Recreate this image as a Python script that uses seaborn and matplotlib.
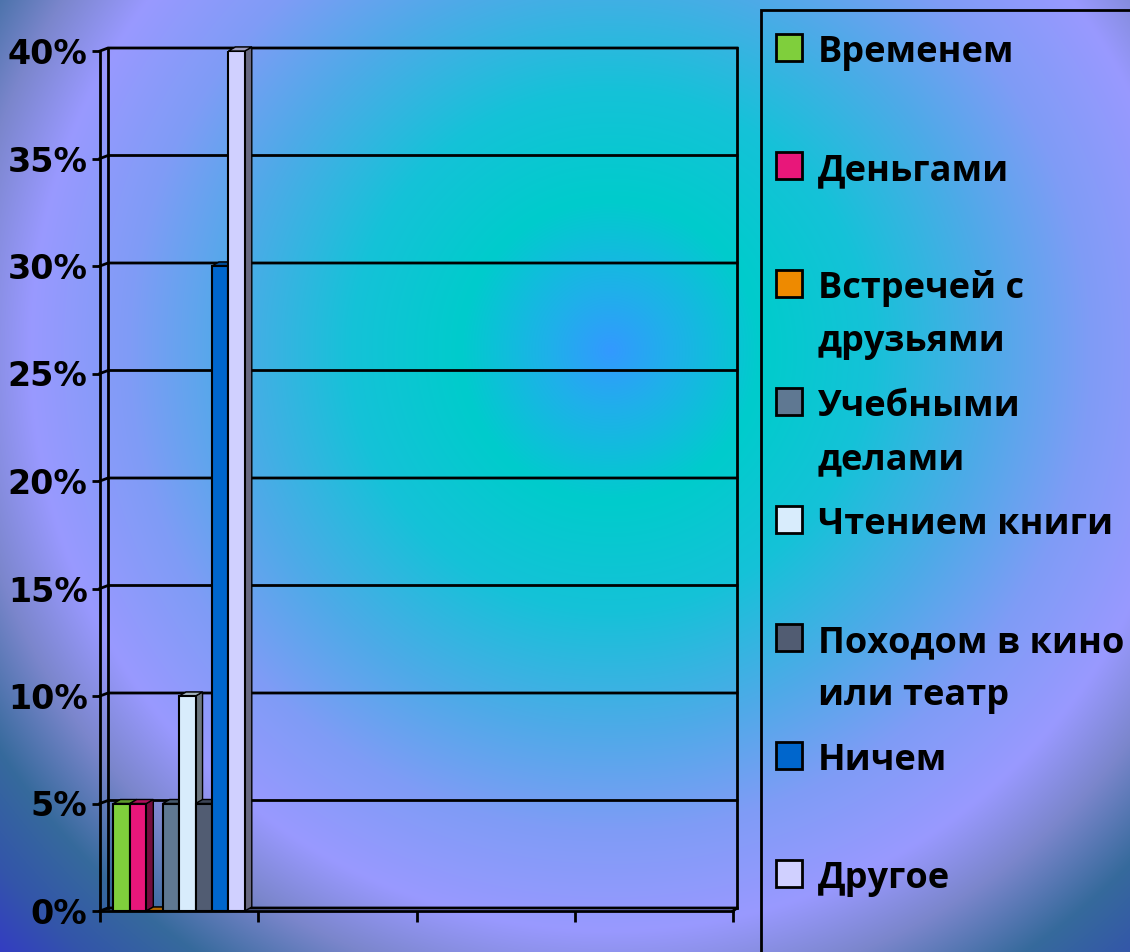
import numpy as np
import pandas as pd
import matplotlib
matplotlib.use("Agg")
import matplotlib.pyplot as plt
import matplotlib.colors as mcolors
from matplotlib.patches import Polygon, Rectangle
from matplotlib.lines import Line2D
from matplotlib.transforms import IdentityTransform
from matplotlib.ticker import PercentFormatter
import seaborn as sns

# survey answers and their shares
answers = ["Временем", "Деньгами", "Встречей с\nдрузьями", "Учебными\nделами",
           "Чтением книги", "Походом в кино\nили театр", "Ничем", "Другое"]
shares = [0.05, 0.05, 0.0, 0.05, 0.10, 0.05, 0.30, 0.40]
colors = ["#7fcf3c", "#e8177a", "#ee8a00", "#5f7892",
          "#d8ecfc", "#515c72", "#0066cc", "#d0d0ff"]
groups = ["1"] * len(answers)
y_ticks = [0.0, 0.05, 0.10, 0.15, 0.20, 0.25, 0.30, 0.35, 0.40]
x_bounds = [-0.5, 0.5, 1.5, 2.5, 3.5]

W, H = 1130, 952
fig = plt.figure(figsize=(W / 100, H / 100), dpi=100)
plt.rcParams["font.family"] = ["DejaVu Sans"]

# radial background
yy, xx = np.mgrid[0:H, 0:W]
r = np.hypot(xx - 610, yy - 350)
stops = [0, 60, 150, 260, 380, 480, 580, 650, 730, 800, 880]
stop_cols = ["#3399ff", "#1fb0ea", "#00cccc", "#15c2d8", "#4eaae8", "#7f9cf6",
             "#9999ff", "#7b86cc", "#366a9c", "#3355aa", "#3333cc"]
rgb = np.array([mcolors.to_rgb(c) for c in stop_cols])
img = np.dstack([np.interp(r, stops, rgb[:, k]) for k in range(3)])
bg = fig.add_axes([0, 0, 1, 1], zorder=-10)
bg.imshow(img, aspect="auto", extent=(0, 1, 0, 1), interpolation="bilinear")
bg.axis("off")

# main axes
ax = fig.add_axes([100 / W, 1 - 911 / H, 633 / W, 860 / H])
ax.set_facecolor("none")
df = pd.DataFrame({"group": groups, "answer": answers, "share": shares})
sns.barplot(data=df, x="group", y="share", hue="answer", hue_order=answers,
            palette=colors, saturation=1, width=0.83, edgecolor="black",
            linewidth=1.5, legend=False, ax=ax)
ax.set_xlim(x_bounds[0], x_bounds[-1])
ax.set_ylim(0, 0.40)
ax.set_xticks(x_bounds, labels=[""] * len(x_bounds))
ax.set_yticks(y_ticks)
ax.yaxis.set_major_formatter(PercentFormatter(1.0, decimals=0))
ax.set_xlabel("")
ax.set_ylabel("")
for s in ["top", "right"]:
    ax.spines[s].set_visible(False)
for s in ["left", "bottom"]:
    ax.spines[s].set_linewidth(2)
ax.tick_params(axis="y", direction="out", length=6, width=2, pad=3,
               labelsize=24)
ax.tick_params(axis="x", direction="out", length=8, width=2)
for t in ax.get_yticklabels():
    t.set_fontweight("bold")

# back wall, grid lines (pseudo 3D)
to_px = ax.transData.transform
xl_px = to_px((x_bounds[0], 0))[0]
xr_px = to_px((x_bounds[-1], 0))[0]


def back(px, py):
    t = (px - xl_px) / (xr_px - xl_px)
    return px + 8 - 4 * t, py + 3


def pline(pts, lw=2):
    xs, ys = zip(*pts)
    ax.add_line(Line2D(xs, ys, color="black", lw=lw, transform=IdentityTransform(),
                       clip_on=False, zorder=0.5))


for v in y_ticks:
    py = to_px((0, v))[1]
    pline([(xl_px, py), back(xl_px, py), back(xr_px, py)])
y0 = to_px((0, 0))[1]
y40 = to_px((0, 0.40))[1]
pline([back(xl_px, y0), back(xl_px, y40)])
pline([back(xr_px, y0), back(xr_px, y40)])
pline([(xr_px, y0), back(xr_px, y0)])

# side and top faces of the bars
d, dz = 7, 4
bars = sorted(ax.patches, key=lambda p: p.get_x())
for i, p in enumerate(bars):
    (xa, ya) = to_px((p.get_x(), 0))
    (xb, yb) = to_px((p.get_x() + p.get_width(), p.get_height()))
    fc = np.array(mcolors.to_rgb(p.get_facecolor()))
    side = Polygon([(xb, ya), (xb + d, ya + dz), (xb + d, yb + dz), (xb, yb)],
                   closed=True, fc=fc * 0.5, ec="black", lw=1,
                   transform=IdentityTransform(), clip_on=False, zorder=2 + i * 0.1)
    top = Polygon([(xa, yb), (xa + d, yb + dz), (xb + d, yb + dz), (xb, yb)],
                  closed=True, fc=fc * 0.75, ec="black", lw=1,
                  transform=IdentityTransform(), clip_on=False, zorder=2 + i * 0.1)
    ax.add_patch(side)
    ax.add_patch(top)
    p.set_zorder(2 + i * 0.1 + 0.05)

# legend
fig.patches.append(Rectangle((761 / W, -0.1), 1, 1 - 10 / H + 0.1, fill=False,
                             ec="black", lw=2, transform=fig.transFigure))
for i, (lab, c) in enumerate(zip(answers, colors)):
    base = 62 + i * 118
    fig.patches.append(Rectangle((776 / W, 1 - (base - 1) / H), 26 / W, 27 / H,
                                 fc=c, ec="black", lw=2, transform=fig.transFigure))
    for k, line in enumerate(lab.split("\n")):
        fig.text(818 / W, 1 - (base + k * 53) / H, line, fontsize=26,
                 fontweight="bold", family=["Open Sans", "DejaVu Sans"],
                 va="baseline", ha="left")

fig.savefig("out.png", dpi=100)
